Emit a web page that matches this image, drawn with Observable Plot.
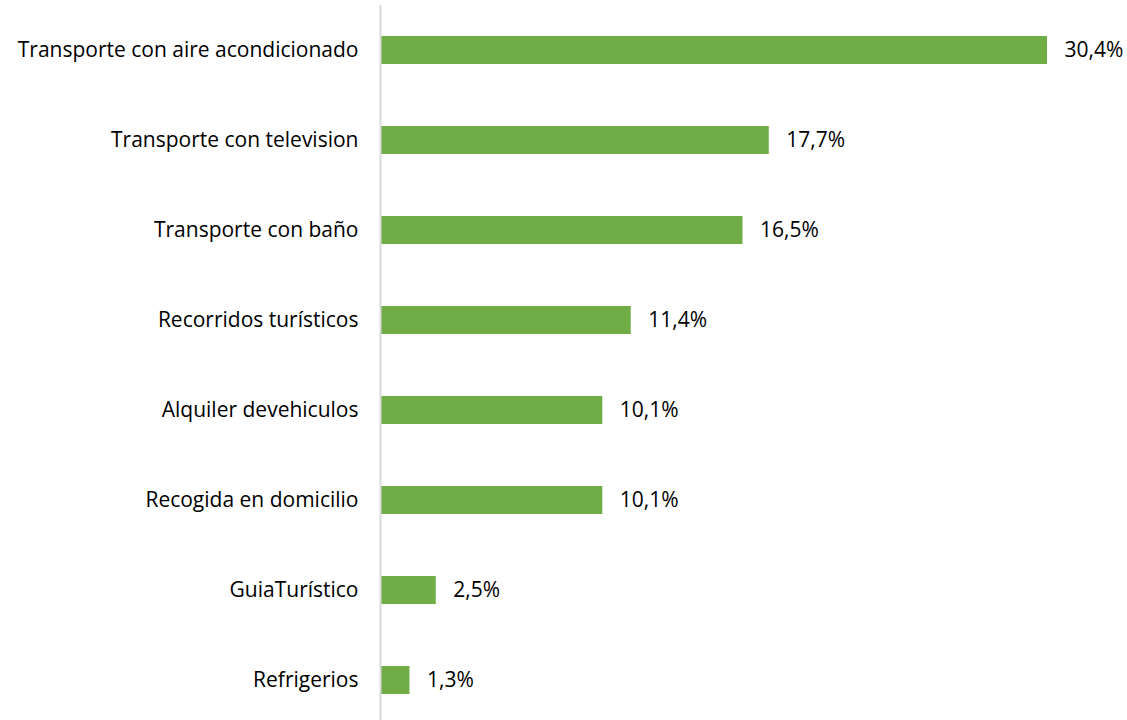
<!DOCTYPE html>
<html>
<head>
<meta charset="utf-8">
<script src="https://cdn.jsdelivr.net/npm/d3@7"></script>
<script src="https://cdn.jsdelivr.net/npm/@observablehq/plot@0.6"></script>
<style>
  html, body { margin: 0; padding: 0; background: #fff; }
  #chart svg { display: block; }
</style>
</head>
<body>
<div id="chart"></div>
<script>
const categories = [
  "Transporte con aire acondicionado",
  "Transporte con television",
  "Transporte con baño",
  "Recorridos turísticos",
  "Alquiler devehiculos",
  "Recogida en domicilio",
  "GuiaTurístico",
  "Refrigerios"
];
const values = [30.4, 17.7, 16.5, 11.4, 10.1, 10.1, 2.5, 1.3];

const data = categories.map((c, i) => ({category: c, value: values[i]}));
const fmt = v => v.toFixed(1).replace(".", ",") + "%";
const FONT = "'Open Sans', Lato, sans-serif";

const chart = Plot.plot({
  width: 1127,
  height: 720,
  marginLeft: 381,
  marginRight: 80,
  marginTop: 5,
  marginBottom: 0,
  style: {fontFamily: FONT, fontSize: "21px", color: "#000", background: "#fff"},
  x: {domain: [0, 30.4], axis: null},
  y: {domain: categories, range: [5, 725], paddingInner: 0.69, paddingOuter: 0.345, label: null},
  marks: [
    Plot.barX(data, {x: "value", y: "category", fill: "#70AD47"}),
    Plot.ruleX([0], {stroke: "#d9d9d9", strokeWidth: 2, dx: -1}),
    Plot.axisY({tickSize: 0, tickPadding: 23, fontSize: 21, fill: "#000", label: null}),
    Plot.text(data, {x: "value", y: "category", text: d => fmt(d.value), textAnchor: "start", dx: 17, fontSize: 21, fill: "#000"})
  ]
});
document.getElementById("chart").appendChild(chart);
</script>
</body>
</html>
